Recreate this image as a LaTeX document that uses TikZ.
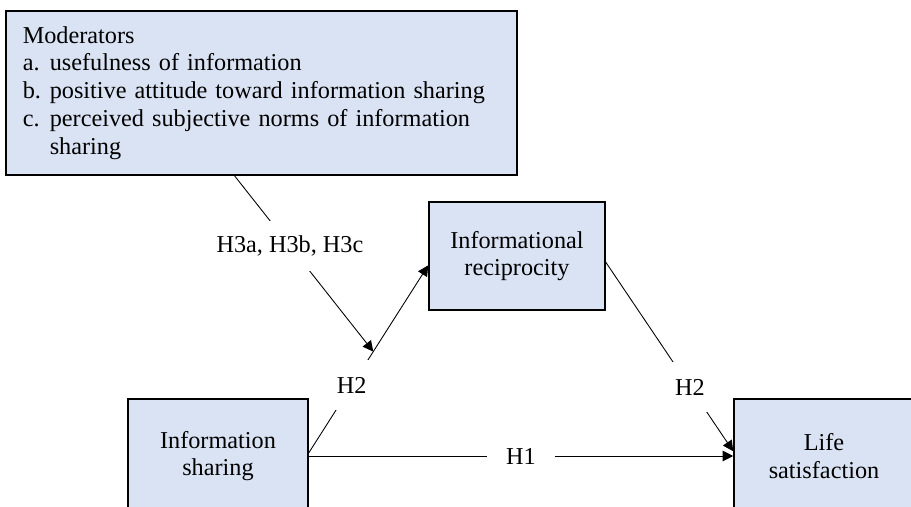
\documentclass[tikz,border=0pt]{standalone}
\usepackage{fontspec}
\setmainfont{Liberation Serif}
\usetikzlibrary{arrows.meta,positioning}
\definecolor{boxblue}{HTML}{DAE3F3}

\begin{document}
\begin{tikzpicture}[>={Triangle[length=2.1mm,width=2.1mm]},font=\fontsize{13.8}{15.8}\selectfont]
  \tikzset{
    factor/.style={draw=black,fill=boxblue,line width=.9pt,minimum width=3.6cm,minimum height=2.28cm,align=center,inner sep=0pt},
    moderator/.style={draw=black,fill=boxblue,line width=.9pt,text width=9.54cm,minimum height=3.28cm,inner xsep=.34cm,align=left},
    link/.style={black,line width=.5pt},
    hyp/.style={fill=white,inner xsep=.38cm,minimum height=1cm}
  }
  \clip (0,0) rectangle (18.22,10.12);
  \fill[white] (0,0) rectangle (18.22,10.12);

  % Boxes.
  \node[moderator,anchor=north west] (mod) at (.10,9.92)
    {Moderators\\
     \makebox[.54cm][l]{a.}usefulness of information\\
     \makebox[.54cm][l]{b.}positive attitude toward information sharing\\
     \makebox[.54cm][l]{c.}perceived subjective norms of information\\
     \hspace*{.54cm}sharing\\[-.2cm]};
  \node[factor,minimum width=3.52cm,minimum height=2.16cm] (recip) at (10.34,5.00) {Informational\\reciprocity};
  \node[factor] (share) at (4.36,1.00) {Information\\sharing};
  \node[factor] (life) at (16.48,1.00) {Life\\satisfaction};

  % Hypotheses.
  \draw[link,->] (share) -- node[hyp] {H1} (life);
  \draw[link,->] (share.2.5) -- node[hyp,pos=.36] {H2} coordinate[pos=.54] (join) (recip.186.5);
  \draw[link,->] (recip.-4) -- node[hyp,pos=.66] {H2} (life.177.5);
  \draw[link,->] (mod.252.7) -- node[hyp,pos=.40] {H3a, H3b, H3c} (join);
\end{tikzpicture}
\end{document}
